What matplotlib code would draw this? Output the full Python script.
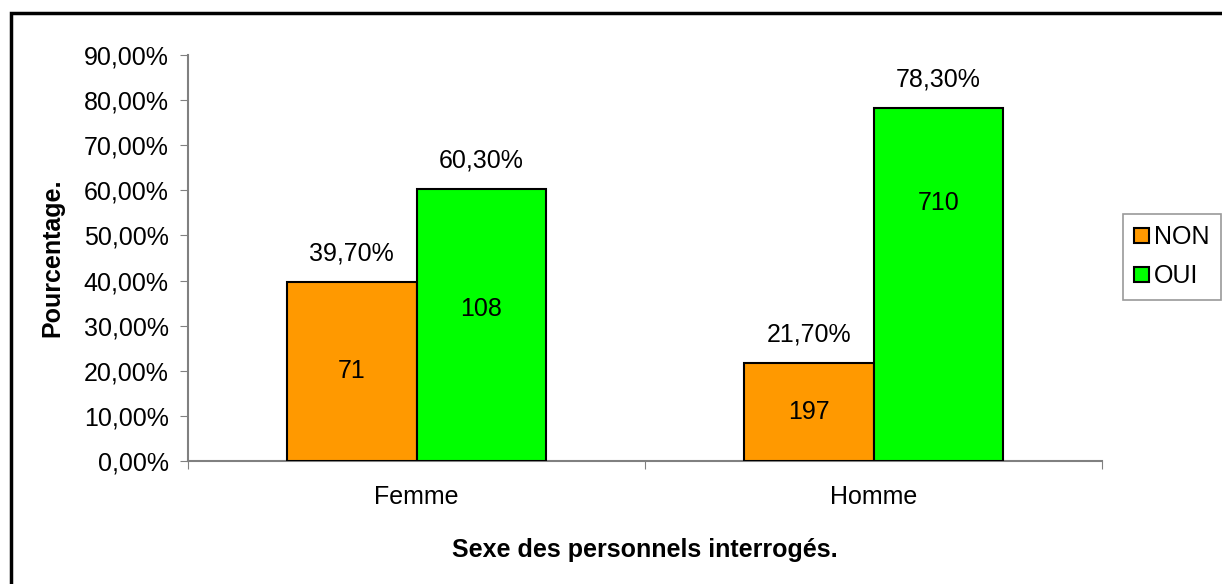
import matplotlib.pyplot as plt
import matplotlib.patches as mpatches
from matplotlib.ticker import FixedLocator, NullFormatter

plt.rcParams['font.family'] = ['Liberation Sans', 'DejaVu Sans']

# Data
categories = ['Femme', 'Homme']
series = ['NON', 'OUI']
pct_non = [39.7, 21.7]
pct_oui = [60.3, 78.3]
count_non = [71, 197]
count_oui = [108, 710]
colors = {'NON': '#FF9900', 'OUI': '#00FF00'}
# where the count label sits, as a fraction of the bar height
count_frac = {'NON': [0.5, 0.5], 'OUI': [0.56, 0.73]}

W, H = 1222, 584
FS = 18
fig = plt.figure(figsize=(W / 100, H / 100), dpi=100)
ax = fig.add_axes([188 / W, 1 - 461 / H, (1102 - 188) / W, (461 - 55) / H])

bw = 0.284
x = range(len(categories))
for k, (name, vals, counts) in enumerate([('NON', pct_non, count_non), ('OUI', pct_oui, count_oui)]):
    pos = [i + (k - 0.5) * bw for i in x]
    ax.bar(pos, vals, width=bw, color=colors[name], edgecolor='black',
           linewidth=1.5, label=name, zorder=3)
    for p, v, c, f in zip(pos, vals, counts, count_frac[name]):
        ax.text(p, v + 6.3, f'{v:.2f}%'.replace('.', ','), ha='center', va='center', fontsize=FS)
        ax.text(p, v * f, str(c), ha='center', va='center', fontsize=FS, zorder=4)

ax.set_xlim(-0.5, 1.5)
ax.set_ylim(0, 90)
ax.set_yticks([i * 10 for i in range(10)])
ax.set_yticklabels([f'{i * 10},00%' for i in range(10)], fontsize=FS)
ax.xaxis.set_major_locator(FixedLocator([-0.5, 0.5, 1.5]))
ax.xaxis.set_major_formatter(NullFormatter())
ax.xaxis.set_minor_locator(FixedLocator([0, 1]))
ax.set_xticklabels(categories, minor=True, fontsize=FS)
ax.tick_params(axis='x', which='minor', length=0, pad=17)
ax.tick_params(axis='x', which='major', length=6, color='#808080', direction='out')
ax.tick_params(axis='y', length=6, color='#808080', direction='out', pad=8)

for s in ['top', 'right']:
    ax.spines[s].set_visible(False)
for s in ['left', 'bottom']:
    ax.spines[s].set_color('#808080')
    ax.spines[s].set_linewidth(1.5)

ax.set_ylabel('Pourcentage.', fontsize=FS, fontweight='bold', labelpad=14)
ax.set_xlabel('Sexe des personnels interrogés.', fontsize=FS, fontweight='bold', labelpad=21)

leg = ax.legend(loc='upper left', bbox_to_anchor=(1123 / W, 1 - 214 / H), bbox_transform=fig.transFigure,
                fontsize=FS, frameon=True, fancybox=False, edgecolor='#808080',
                handlelength=0.6, handleheight=0.6, handletextpad=0.2, labelspacing=0.6,
                borderpad=0.45, borderaxespad=0)
leg.get_frame().set_linewidth(1.2)

# Outer frame
fig.patches.append(mpatches.Rectangle((10.5 / W, -0.05), 1.1, 1 - 13 / H + 0.05,
                                      transform=fig.transFigure, fill=False,
                                      edgecolor='black', linewidth=2.5))

fig.savefig('out.png', dpi=100, facecolor='white')
